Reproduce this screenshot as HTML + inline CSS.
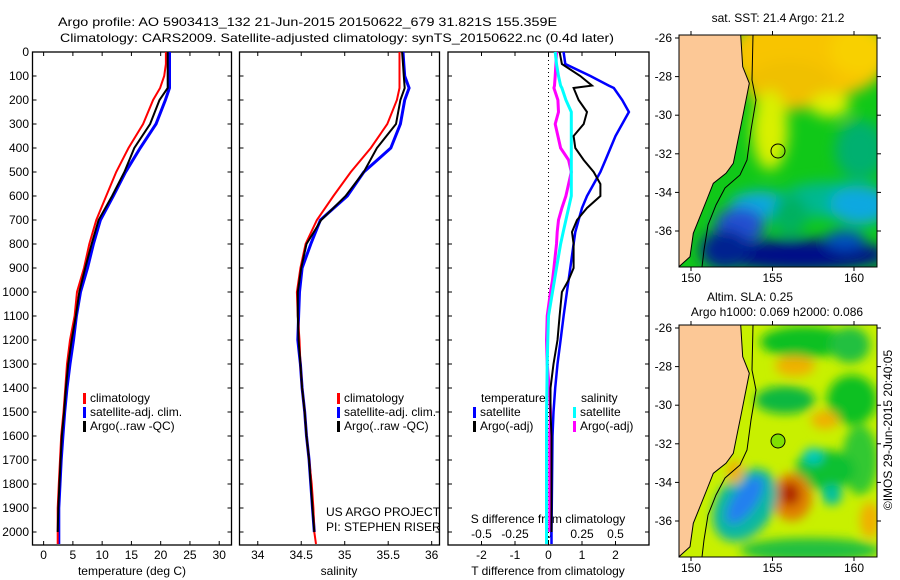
<!DOCTYPE html>
<html><head><meta charset="utf-8"><style>
body{margin:0;background:#fff}
svg{display:block;font-family:"Liberation Sans",sans-serif;font-size:12px}
</style></head><body>
<svg id="c" width="900" height="580" viewBox="0 0 900 580">
<defs>
<filter id="bl" x="-50%" y="-50%" width="200%" height="200%"><feGaussianBlur stdDeviation="7"/></filter>
<filter id="bl2" x="-50%" y="-50%" width="200%" height="200%"><feGaussianBlur stdDeviation="5"/></filter>
<clipPath id="m1"><rect x="679" y="35" width="198" height="232"/></clipPath>
<clipPath id="m2"><rect x="679" y="325" width="198" height="232"/></clipPath>
</defs>
<text x="58" y="26" textLength="499" lengthAdjust="spacingAndGlyphs">Argo profile: AO 5903413_132 21-Jun-2015 20150622_679 31.821S 155.359E</text>
<text x="60" y="42" textLength="554" lengthAdjust="spacingAndGlyphs">Climatology: CARS2009. Satellite-adjusted climatology: synTS_20150622.nc (0.4d later)</text>

<!-- SST map -->
<g clip-path="url(#m1)">
<rect x="679" y="35" width="198" height="232" fill="#10c818"/>
<g filter="url(#bl)">
<ellipse cx="810" cy="55" rx="80" ry="45" fill="#f8c400"/>
<ellipse cx="790" cy="85" rx="45" ry="25" fill="#f0c000"/>
<ellipse cx="860" cy="50" rx="30" ry="25" fill="#f8d000"/>
<ellipse cx="770" cy="130" rx="18" ry="40" fill="#d8f000"/>
<ellipse cx="830" cy="105" rx="20" ry="12" fill="#e0f000"/>
<ellipse cx="860" cy="150" rx="25" ry="30" fill="#00b070"/>
<ellipse cx="830" cy="200" rx="50" ry="18" fill="#00b890"/>
<ellipse cx="860" cy="205" rx="30" ry="20" fill="#10a8e0"/>
<ellipse cx="760" cy="205" rx="30" ry="14" fill="#10a8e0"/>
<ellipse cx="790" cy="215" rx="18" ry="20" fill="#00b060"/>
<ellipse cx="740" cy="225" rx="25" ry="18" fill="#2050d0"/>
<ellipse cx="800" cy="255" rx="90" ry="16" fill="#001088"/>
<ellipse cx="725" cy="250" rx="25" ry="20" fill="#002090"/>
<ellipse cx="845" cy="240" rx="20" ry="10" fill="#0050c0"/>
</g>
<polygon points="679,35 740.7,35 742.7,66.7 749.3,83.3 746,100 740.7,126.7 737.3,143.3 733.3,163.3 726,173.3 713.3,183.3 706.7,200 700,216.7 693.3,233.3 690,256.7 679,266.7" fill="#fcc896" stroke="#000" stroke-width="1"/>
<polyline points="753,35 752,80 756,100 751,130 747,160 740,175 725,188 716,205 708,225 704,250 702,267" fill="none" stroke="#000" stroke-width="1"/>
<circle cx="778" cy="151" r="7" fill="none" stroke="#000"/>
</g>
<rect x="679" y="35" width="198" height="232" fill="none" stroke="#000"/>
<text x="778" y="22" text-anchor="middle">sat. SST: 21.4 Argo: 21.2</text>

<!-- SLA map -->
<g clip-path="url(#m2)">
<rect x="679" y="325" width="198" height="232" fill="#c8f000"/>
<g filter="url(#bl2)">
<ellipse cx="805" cy="342" rx="45" ry="16" fill="#10c020"/>
<ellipse cx="850" cy="345" rx="20" ry="18" fill="#20c040"/>
<ellipse cx="785" cy="400" rx="30" ry="14" fill="#10b840"/>
<ellipse cx="852" cy="400" rx="25" ry="25" fill="#10c020"/>
<ellipse cx="860" cy="460" rx="18" ry="35" fill="#30c830"/>
<ellipse cx="825" cy="470" rx="30" ry="20" fill="#10c030"/>
<ellipse cx="813" cy="456" rx="10" ry="8" fill="#00c8c0"/>
<ellipse cx="832" cy="495" rx="10" ry="10" fill="#00c0a0"/>
<ellipse cx="795" cy="366" rx="20" ry="10" fill="#f0b000"/>
<ellipse cx="825" cy="420" rx="14" ry="9" fill="#f0b000"/>
<ellipse cx="792" cy="497" rx="20" ry="24" fill="#e08000"/>
<ellipse cx="790" cy="494" rx="10" ry="12" fill="#b02800"/>
<ellipse cx="870" cy="520" rx="10" ry="18" fill="#f0b000"/>
<ellipse cx="745" cy="505" rx="28" ry="40" transform="rotate(35 745 505)" fill="#10b8a0"/>
<ellipse cx="745" cy="500" rx="12" ry="28" transform="rotate(35 745 500)" fill="#2080f0"/>
<ellipse cx="810" cy="550" rx="70" ry="12" fill="#20c040"/>
<ellipse cx="735" cy="472" rx="8" ry="12" fill="#f0b000"/>
</g>
<polygon points="679,325 740.7,325 742.7,356.7 749.3,373.3 746,390 740.7,416.7 737.3,433.3 733.3,453.3 726,463.3 713.3,473.3 706.7,490 700,506.7 693.3,523.3 690,546.7 679,556.7" fill="#fcc896" stroke="#000" stroke-width="1"/>
<polyline points="753,325 752,370 756,390 751,420 747,450 740,465 725,478 716,495 708,515 704,540 702,557" fill="none" stroke="#000" stroke-width="1"/>
<circle cx="778" cy="441" r="7" fill="#80e000" stroke="#000"/>
</g>
<rect x="679" y="325" width="198" height="232" fill="none" stroke="#000"/>
<text x="750" y="301" text-anchor="middle">Altim. SLA: 0.25</text>
<text x="777" y="316" text-anchor="middle">Argo h1000: 0.069 h2000: 0.086</text>
<text transform="translate(892,430) rotate(-90)" text-anchor="middle">©IMOS 29-Jun-2015 20:40:05</text>

<text x="326" y="516">US ARGO PROJECT</text>
<text x="326" y="531">PI: STEPHEN RISER</text>
</svg>
<script>
const depths=[0,50,100,150,200,300,400,500,600,700,800,900,1000,1100,1200,1300,1400,1500,1600,1700,1800,1900,2000,2050];
const tempClim=[20.9,20.9,20.6,19.9,18.7,17,14.5,12.4,10.7,9,7.8,6.9,5.7,5.3,4.5,4.0,3.7,3.4,3.0,2.8,2.6,2.4,2.4,2.4];
const tempSat=[21.5,21.5,21.5,21.5,20.8,19.2,16.5,14,11.9,9.7,8.5,7.5,6.3,5.6,5.1,4.5,4.0,3.6,3.3,3.0,2.8,2.6,2.6,2.6];
const tempArgo=[21.2,21.2,21.2,21.2,19.8,18.2,15.5,13.8,11.7,9.4,8.2,7.1,6.1,5.5,4.8,4.2,3.8,3.5,3.1,2.9,2.7,2.5,2.4,null];
const salClim=[35.63,35.63,35.63,35.63,35.6,35.49,35.3,35.07,34.87,34.68,34.55,34.49,34.45,34.46,34.48,34.49,34.51,34.54,34.56,34.59,34.62,34.64,34.65,34.67];
const salSat=[35.67,35.68,35.69,35.74,35.69,35.64,35.53,35.22,35.03,34.72,34.61,34.51,34.48,34.47,34.46,34.49,34.51,34.54,34.56,34.59,34.61,34.63,34.65,null];
const salArgo=[35.66,35.67,35.68,35.69,35.64,35.59,35.37,35.22,35.01,34.73,34.56,34.5,34.46,34.46,34.47,34.49,34.51,34.54,34.56,34.59,34.61,34.63,34.65,null];
const diffDepths=[0,50,100,140,150,200,250,300,350,400,450,500,550,600,650,700,750,800,900,950,1000,1100,1200,1300,1400,1500,1600,2000,2050];
const tDiffSat=[0.45,0.5,1.25,1.8,1.95,2.2,2.4,2.2,2.0,1.85,1.7,1.55,1.35,1.15,1.0,0.9,0.8,0.75,0.65,0.6,0.55,0.45,0.36,0.27,0.2,0.15,0.12,0.09,0.09];
const tDiffArgo=[0.33,0.4,0.95,1.3,0.75,0.9,1.15,1.05,0.75,0.8,1.05,1.35,1.55,1.55,1.15,0.85,0.7,0.75,0.75,0.6,0.4,0.33,0.27,0.15,0.06,0.06,0.09,0.09,null];
const sDiffSat=[0.05,0.06,0.075,0.09,0.1,0.13,0.17,0.17,0.17,0.17,0.17,0.17,0.17,0.17,0.15,0.13,0.11,0.09,0.06,0.045,0.03,0.0,-0.005,-0.01,-0.012,-0.015,-0.015,-0.015,-0.015];
const sDiffArgo=[0.06,0.055,0.05,0.045,0.04,0.07,0.075,0.05,0.07,0.09,0.15,0.17,0.15,0.13,0.1,0.075,0.065,0.06,0.04,0.03,0.015,-0.01,-0.015,-0.01,0.005,0.015,0.01,0.01,null];
const depthTicks=[0,100,200,300,400,500,600,700,800,900,1000,1100,1200,1300,1400,1500,1600,1700,1800,1900,2000];
const tempTicks=[0,5,10,15,20,25,30];
const salTicks=[34,34.5,35,35.5,36];
const tDiffTicks=[-2,-1,0,1,2];
const sDiffTicks=[-0.5,-0.25,0,0.25,0.5];
const sDiffTickLabels=["-0.5","-0.25","0","0.25","0.5"];
const latTicks=[-26,-28,-30,-32,-34,-36];
const lonTicks=[150,155,160];

const NS='http://www.w3.org/2000/svg';
const svg=document.getElementById('c');
const yTop=52,yBot=545;
const yDepth=d=>yTop+d*0.24;
function mk(tag,attrs,parent){const e=document.createElementNS(NS,tag);for(const k in attrs)e.setAttribute(k,attrs[k]);(parent||svg).appendChild(e);return e;}
function txt(x,y,s,anchor){const t=mk('text',{x:x,y:y,'text-anchor':anchor||'start'});t.textContent=s;return t;}
function lin(x0,x1,v0,v1){return v=>x0+(v-v0)*(x1-x0)/(v1-v0);}
const panels=[
 {name:'temperature',x0:32.5,x1:231.5,sx:lin(32.5,231.5,-1.9,32.1)},
 {name:'salinity',x0:239.5,x1:439.5,sx:lin(239.5,439.5,33.79,36.09)},
 {name:'difference',x0:448,x1:649,sx:lin(448,649,-3.0,3.0)}
];
panels.forEach(p=>{
 const r=mk('rect',{x:p.x0,y:yTop,width:p.x1-p.x0,height:yBot-yTop,fill:'none',stroke:'#000','stroke-width':1.3});
 
 
});
// depth axis
depthTicks.forEach(d=>{
 const y=yDepth(d);
 const t=txt(29,y+4,String(d),'end');
 
 
 panels.forEach(p=>{mk('line',{x1:p.x0,x2:p.x0+4,y1:y,y2:y,stroke:'#000'});mk('line',{x1:p.x1,x2:p.x1-4,y1:y,y2:y,stroke:'#000'});});
});
function xticks(p,ticks,labels,yl){
 ticks.forEach((v,i)=>{const x=p.sx(v);
  mk('line',{x1:x,x2:x,y1:yBot,y2:yBot-4,stroke:'#000'});mk('line',{x1:x,x2:x,y1:yTop,y2:yTop+4,stroke:'#000'});
  const t=txt(x,yl,labels?labels[i]:String(v),'middle');
  
  
 });
}
xticks(panels[0],tempTicks,null,559);
xticks(panels[1],salTicks,null,559);
xticks(panels[2],tDiffTicks,null,559);
const sS=v=>panels[2].sx(v*4);
sDiffTicks.forEach((v,i)=>{const t=txt(sS(v),538,sDiffTickLabels[i],'middle');
 
 });
[[132,'temperature (deg C)','x-axis-title-temperature'],[339,'salinity','x-axis-title-salinity'],[548,'T difference from climatology','x-axis-title-t-diff']].forEach(a=>{
 const t=txt(a[0],575,a[1],'middle');
 
 
});
const st=txt(548,523,'S difference from climatology','middle');


const zl=mk('line',{x1:panels[2].sx(0),x2:panels[2].sx(0),y1:yTop,y2:yBot,stroke:'#000','stroke-dasharray':'1,3'});



function series(vals,dd,sx,color,w,name){
 const pts=[];vals.forEach((v,i)=>{if(v!==null)pts.push(sx(v).toFixed(1)+','+yDepth(dd[i]).toFixed(1));});
 const pl=mk('polyline',{points:pts.join(' '),fill:'none',stroke:color,'stroke-width':w,'stroke-linejoin':'miter'});
 
 
}
series(tempSat,depths,panels[0].sx,'#0000ff',3,'temp-satellite-line');
series(tempClim,depths,panels[0].sx,'#ff0000',2,'temp-climatology-line');
series(tempArgo,depths,panels[0].sx,'#000',2,'temp-argo-line');
series(salSat,depths,panels[1].sx,'#0000ff',3,'salinity-satellite-line');
series(salClim,depths,panels[1].sx,'#ff0000',2,'salinity-climatology-line');
series(salArgo,depths,panels[1].sx,'#000',2,'salinity-argo-line');
series(sDiffArgo,diffDepths,sS,'#ff00ff',3,'s-diff-argo-line');
series(sDiffSat,diffDepths,sS,'#00ffff',3,'s-diff-satellite-line');
series(tDiffSat,diffDepths,panels[2].sx,'#0000ff',2.5,'t-diff-satellite-line');
series(tDiffArgo,diffDepths,panels[2].sx,'#000',2,'t-diff-argo-line');

function legend(x,y,items){
 items.forEach((it,i)=>{
  const m=mk('rect',{x:x,y:y+i*14-9,width:3,height:11,fill:it[0]});
  
  
  const t=txt(x+7,y+i*14,it[1]);
  
  
 });
}
const L=[['#ff0000','climatology'],['#0000ff','satellite-adj. clim.'],['#000','Argo(..raw -QC)']];
legend(83,402,L);
legend(337,402,L);
const lt=txt(481,402,'temperature');
const ls=txt(581,402,'salinity');
legend(473,416,[['#0000ff','satellite'],['#000','Argo(-adj)']]);
legend(573,416,[['#00ffff','satellite'],['#ff00ff','Argo(-adj)']]);

// map axes
const latY=lin(38,231,-26,-36), lonX=lin(691,854,150,160);
[0,290].forEach(off=>{
 latTicks.forEach(v=>{const y=latY(v)+off;
  const t=txt(672,y+4,String(v),'end');
  
  
  mk('line',{x1:679,x2:675,y1:y,y2:y,stroke:'#000'});mk('line',{x1:877,x2:881,y1:y,y2:y,stroke:'#000'});});
 lonTicks.forEach(v=>{const x=lonX(v);
  const t=txt(x,282+off,String(v),'middle');
  
  
  mk('line',{x1:x,x2:x,y1:267+off,y2:271+off,stroke:'#000'});mk('line',{x1:x,x2:x,y1:35+off,y2:31+off,stroke:'#000'});});
});
</script>
</body></html>
